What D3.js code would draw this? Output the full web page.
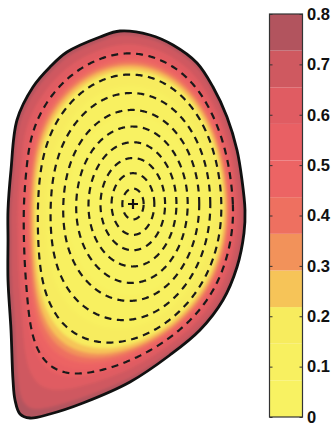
<!DOCTYPE html>
<html lang="en">
<head>
<meta charset="UTF-8" />
<title>Flux surfaces</title>
<script src="https://d3js.org/d3.v7.min.js"></script>
<style>
  body { margin: 0; background: #fff; }
  .cb-axis text { font-family: "Liberation Sans", Arial, sans-serif; font-weight: bold; font-size: 16.5px; fill: #111; }
</style>
</head>
<body>
<div id="chart"></div>
<script>
// plasma boundary, R and Z in cm
const boundaryR = [176, 191, 202.5, 214.5, 222.5, 229.5, 234.5, 237, 238.5, 238, 234.5, 227.5, 216, 201, 181, 157.5, 141, 131, 126, 123.5, 122.5, 121.5, 120, 120, 120, 121.5, 124.5, 132.5, 141, 149.5, 166];
const boundaryZ = [86.5, 84.5, 79.5, 70.5, 58.5, 43.5, 27, 12, -3, -14.5, -31.5, -48, -63, -75.5, -89, -99.5, -105, -107, -105, -98, -88, -63, -38, -18, -3, 17, 42, 58.5, 68.5, 76, 83.5];
// magnetic axis (R, Z)
const magAxis = [182.5, 0];
// half width / half height of the inner (near-elliptic) surfaces
const coreShape = [59, 86];

// dashed flux surfaces, normalised radius
const fluxLevels = [0.09, 0.18, 0.27, 0.365, 0.46, 0.56, 0.66, 0.765, 0.88];

// plotted quantity against normalised radius
const profileRho = [0, 0.5, 0.76, 0.79, 0.81, 0.83, 0.86, 0.9, 0.95, 1.0];
const profileVal = [0, 0.06, 0.17, 0.22, 0.29, 0.38, 0.5, 0.61, 0.69, 0.76];

// colour levels
const bandEdges = [0, 0.0727, 0.1455, 0.2182, 0.2909, 0.3636, 0.4364, 0.5091, 0.5818, 0.6545, 0.7273, 0.8];
const bandColors = ["#f8f262", "#f8f060", "#f7ec5e", "#f6c458", "#f2925a", "#ee7060", "#ec6464", "#e96064", "#e05c62", "#cf5960", "#b2545e"];
const cbTicks = [0, 0.1, 0.2, 0.3, 0.4, 0.5, 0.6, 0.7, 0.8];
const cbLabels = ["0", "0.1", "0.2", "0.3", "0.4", "0.5", "0.6", "0.7", "0.8"];

const width = 336, height = 425;
const svg = d3.select("#chart").append("svg").attr("width", width).attr("height", height);

const x = d3.scaleLinear().domain([120, 240]).range([8, 248]);
const y = d3.scaleLinear().domain([-110, 90]).range([424, 24]);

const edgeD = d3.line().curve(d3.curveCatmullRomClosed.alpha(0.5))(
  boundaryR.map((r, i) => [x(r), y(boundaryZ[i])])
);

// boundary in polar form round the magnetic axis
const probe = svg.append("path").attr("d", edgeD).attr("fill", "none");
const node = probe.node(), L = node.getTotalLength();
const polar = d3.range(1500).map(i => {
  const p = node.getPointAtLength(L * i / 1500);
  const dr = x.invert(p.x) - magAxis[0], dz = y.invert(p.y) - magAxis[1];
  let t = Math.atan2(dz, dr);
  if (t < 0) t += 2 * Math.PI;
  return { t, r: Math.hypot(dr, dz) };
}).sort((a, b) => a.t - b.t);
probe.remove();

const bis = d3.bisector(d => d.t).left;
function rEdge(t) {
  const n = polar.length, i = bis(polar, t);
  const a = polar[(i - 1 + n) % n], b = polar[i % n];
  let ta = a.t, tb = b.t;
  if (i === 0) ta -= 2 * Math.PI;
  if (i === n) tb += 2 * Math.PI;
  const f = tb === ta ? 0 : (t - ta) / (tb - ta);
  return a.r + f * (b.r - a.r);
}
function rCore(t) {
  const c = Math.cos(t) / coreShape[0], s = Math.sin(t) / coreShape[1];
  return 1 / Math.sqrt(c * c + s * s);
}

const N = 720;
const angles = d3.range(N).map(k => k * 2 * Math.PI / N);
const edgeTable = angles.map(rEdge);
const coreTable = angles.map(rCore);
// boundary radius smoothed over angle (rounds off the corner for inner surfaces)
function smoothEdge(sigmaDeg) {
  if (sigmaDeg < 0.3) return edgeTable;
  const s = sigmaDeg * N / 360, h = Math.ceil(3 * s);
  const kern = d3.range(-h, h + 1).map(j => Math.exp(-j * j / (2 * s * s)));
  const ks = d3.sum(kern);
  return edgeTable.map((_, k) => {
    let acc = 0;
    for (let j = -h; j <= h; j++) acc += kern[j + h] * edgeTable[((k + j) % N + N) % N];
    return acc / ks;
  });
}
// surface of normalised radius rho: elliptic near the axis, boundary-shaped at the edge
function surface(rho) {
  const w = rho * rho;
  const se = smoothEdge(65 * (1 - rho));
  return angles.map((t, k) => {
    const r = rho * ((1 - w) * coreTable[k] + w * se[k]);
    return [x(magAxis[0] + r * Math.cos(t)), y(magAxis[1] + r * Math.sin(t))];
  });
}
const closed = d3.line().curve(d3.curveLinearClosed);

const defs = svg.append("defs");
defs.append("clipPath").attr("id", "plasma").append("path").attr("d", edgeD);
defs.append("filter").attr("id", "soft").attr("x", "-10%").attr("y", "-10%").attr("width", "120%").attr("height", "120%")
  .append("feGaussianBlur").attr("stdDeviation", 1.4);

// filled levels
const valToRho = d3.scaleLinear().domain(profileVal).range(profileRho).clamp(true);
const bandOf = v => Math.max(0, Math.min(bandColors.length - 1, d3.bisectRight(bandEdges, v) - 1));
const fills = svg.append("g").attr("clip-path", "url(#plasma)").append("g").attr("filter", "url(#soft)");
const outer = bandOf(profileVal[profileVal.length - 1]);
fills.append("rect").attr("x", 0).attr("y", 0).attr("width", 260).attr("height", height)
  .attr("fill", bandColors[outer]);
for (let k = outer; k >= 1; k--) {
  fills.append("path").attr("d", closed(surface(valToRho(bandEdges[k])))).attr("fill", bandColors[k - 1]);
}

// dashed flux surfaces
svg.append("g").selectAll("path").data(fluxLevels).join("path")
  .attr("d", d => closed(surface(d)))
  .attr("fill", "none").attr("stroke", "#1a1a1a").attr("stroke-width", 2.2)
  .attr("stroke-dasharray", "7,5.5");

// plasma boundary
svg.append("path").attr("d", edgeD).attr("fill", "none").attr("stroke", "#111").attr("stroke-width", 2.8);

// magnetic axis
const ax = x(magAxis[0]), ay = y(magAxis[1]);
svg.append("path").attr("d", `M${ax - 5},${ay}H${ax + 5}M${ax},${ay - 5}V${ay + 5}`)
  .attr("stroke", "#111").attr("stroke-width", 2.2);

// colourbar
const cb = d3.scaleLinear().domain([0, 0.8]).range([417, 14]);
const cbX0 = 269.5, cbX1 = 302.5;
svg.append("g").selectAll("rect").data(bandColors).join("rect")
  .attr("x", cbX0).attr("width", cbX1 - cbX0)
  .attr("y", (d, i) => cb(bandEdges[i + 1]))
  .attr("height", (d, i) => cb(bandEdges[i]) - cb(bandEdges[i + 1]))
  .attr("fill", d => d);
svg.append("rect").attr("x", cbX0).attr("y", cb(0.8)).attr("width", cbX1 - cbX0)
  .attr("height", cb(0) - cb(0.8)).attr("fill", "none").attr("stroke", "#333").attr("stroke-width", 1.2);

const rightAxis = svg.append("g").attr("class", "cb-axis").attr("transform", `translate(${cbX1},0)`)
  .call(d3.axisRight(cb).tickValues(cbTicks).tickFormat((d, i) => cbLabels[i]).tickSizeInner(-3).tickSizeOuter(0).tickPadding(4.5));
rightAxis.select(".domain").remove();
rightAxis.selectAll("line").attr("stroke", "#333");
rightAxis.selectAll("text").attr("dy", "0.32em");

const leftAxis = svg.append("g").attr("transform", `translate(${cbX0},0)`)
  .call(d3.axisLeft(cb).tickValues(cbTicks).tickFormat("").tickSizeInner(-3).tickSizeOuter(0));
leftAxis.select(".domain").remove();
leftAxis.selectAll("line").attr("stroke", "#333");
</script>
</body>
</html>
